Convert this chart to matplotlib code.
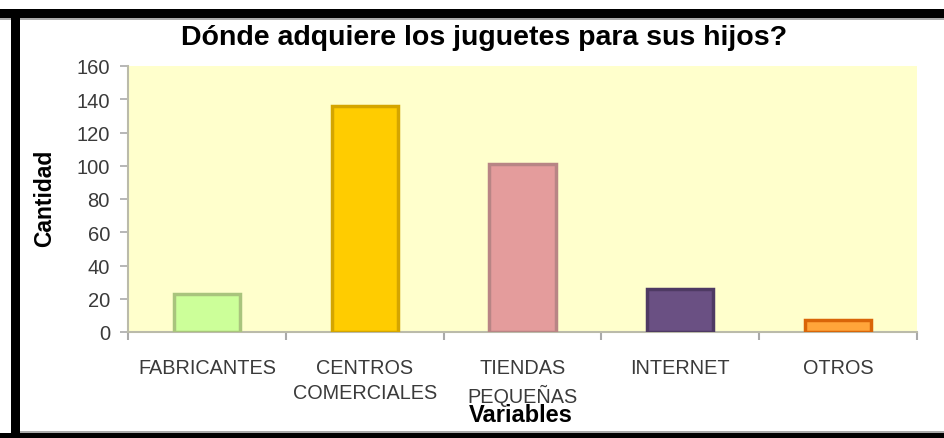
import matplotlib
matplotlib.use("Agg")
import matplotlib.pyplot as plt
from matplotlib.patches import Rectangle
import numpy as np

categories = ["FABRICANTES", "CENTROS\nCOMERCIALES", "TIENDAS\nPEQUEÑAS", "INTERNET", "OTROS"]
values = [23, 136, 101, 26, 7]
bar_colors = ["#CCFF99", "#FFCC00", "#E49C9C", "#6A5083", "#FFA53A"]
edge_colors = ["#A9C47D", "#D4A500", "#B88585", "#4E3A63", "#D96508"]
yticks = [0, 20, 40, 60, 80, 100, 120, 140, 160]

W, H = 945, 439
fig = plt.figure(figsize=(W / 100, H / 100), dpi=100)
fig.patch.set_facecolor("white")

ax = fig.add_axes([128 / W, 1 - 333 / H, 789 / W, 266 / H])
ax.set_facecolor("#FFFFCC")
x = np.arange(len(categories))
ax.bar(x, values, width=0.42, color=bar_colors, edgecolor=edge_colors, linewidth=2.5, zorder=3)

ax.set_xlim(-0.5, len(categories) - 0.5)
ax.set_ylim(0, 160)
ax.set_yticks(yticks)
ax.set_yticklabels([str(v) for v in yticks], fontsize=14.5, color="#3A3A3A",
                   family=["Liberation Sans"])
ax.tick_params(axis="y", direction="out", length=6, width=1.2, color="#AAAAAA", pad=7)

ax.set_xticks(x)
ax.set_xticklabels(categories, fontsize=14.3, color="#3A3A3A",
                   family=["Liberation Sans"], linespacing=1.35)
ax.tick_params(axis="x", which="major", length=0, pad=19)
ax.set_xticks(np.arange(-0.5, len(categories)), minor=True)
ax.tick_params(axis="x", which="minor", direction="out", length=6, width=1.5, color="#AAAAAA")

for side in ["top", "right"]:
    ax.spines[side].set_visible(False)
for side in ["left", "bottom"]:
    ax.spines[side].set_color("#BBBBAA")
    ax.spines[side].set_linewidth(1.5)

fig.text(484 / W, 1 - 38 / H, "Dónde adquiere los juguetes para sus hijos?",
         ha="center", va="center", fontsize=20.5, fontweight="bold", family=["Liberation Sans"])
fig.text(45 / W, 1 - 198 / H, "Cantidad", rotation=90, ha="center", va="center",
         fontsize=16.5, fontweight="bold", family=["Liberation Sans"])
fig.text(521 / W, 1 - 416 / H, "Variables", ha="center", va="center",
         fontsize=17, fontweight="bold", family=["Liberation Sans"])

# black frame
fig.patches.append(Rectangle((0, 1 - 19 / H), 1, 9 / H, transform=fig.transFigure,
                             facecolor="black", edgecolor="none"))
fig.patches.append(Rectangle((0, 1 - 21 / H), 1, 2 / H, transform=fig.transFigure,
                             facecolor="#AAAAAA", edgecolor="none"))
fig.patches.append(Rectangle((11 / W, 0), 9 / W, 1 - 10 / H, transform=fig.transFigure,
                             facecolor="black", edgecolor="none"))
fig.patches.append(Rectangle((0, 0), 1, 5 / H, transform=fig.transFigure,
                             facecolor="black", edgecolor="none"))
fig.patches.append(Rectangle((20 / W, 5 / H), 1, 2 / H, transform=fig.transFigure,
                             facecolor="#AAAAAA", edgecolor="none"))

fig.savefig("out.png", dpi=100, facecolor="white")
